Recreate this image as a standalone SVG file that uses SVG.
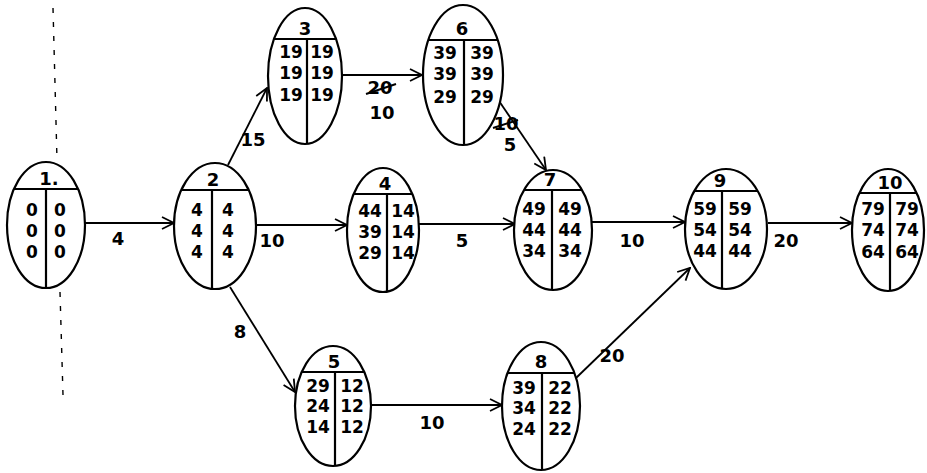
<svg xmlns="http://www.w3.org/2000/svg" width="927" height="473" viewBox="0 0 927 473">
<style>
.bg{fill:#fff}
.shape{fill:#fff;stroke:#000;stroke-width:2.2}
.ln{stroke:#000;stroke-width:2.2;fill:none}
.edge{stroke:#000;stroke-width:1.8;fill:none;marker-end:url(#arr)}
text{font-family:"DejaVu Sans","Liberation Sans",sans-serif;fill:#000;text-anchor:middle;font-weight:bold}
.v{font-size:17px}
.h{font-size:18px}
.lbl{font-size:18px}
.dash{stroke:#000;stroke-width:1.4;stroke-dasharray:5 9;fill:none}
.strike{stroke:#000;stroke-width:2;fill:none}
</style>
<defs>
<marker id="arr" viewBox="0 0 14 14" refX="13" refY="7" markerWidth="14" markerHeight="14" markerUnits="userSpaceOnUse" orient="auto">
<path d="M1,1 L13,7 L1,13" fill="none" stroke="#000" stroke-width="1.8"/>
</marker>
</defs>
<rect class="bg" x="0" y="0" width="927" height="473"/>
<path class="dash" d="M53,8 L57,160 M60,292 L63,395"/>
<g id="connectors">
<path class="edge" d="M85,223 L174,223"/>
<path class="edge" d="M228,165 L267,88"/>
<path class="edge" d="M256,225 L347,225"/>
<path class="edge" d="M230,287 L295,392"/>
<path class="edge" d="M341,75 L422,75"/>
<path class="edge" d="M497,98 L546,170"/>
<path class="edge" d="M418,224 L515,224"/>
<path class="edge" d="M592,222 L685,222"/>
<path class="edge" d="M768,223 L852,223"/>
<path class="edge" d="M370,405 L502,405"/>
<path class="edge" d="M576,378 L690,268"/>
<text class="lbl" x="118" y="245">4</text>
<text class="lbl" x="253" y="146">15</text>
<text class="lbl" x="272" y="247">10</text>
<text class="lbl" x="240" y="338">8</text>
<text class="lbl" x="380" y="94">20</text>
<path class="strike" d="M366,94 L396,84"/>
<text class="lbl" x="382" y="119">10</text>
<text class="lbl" x="506" y="130">10</text>
<path class="strike" d="M493,128 L518,120"/>
<text class="lbl" x="510" y="151">5</text>
<text class="lbl" x="462" y="247">5</text>
<text class="lbl" x="632" y="247">10</text>
<text class="lbl" x="786" y="247">20</text>
<text class="lbl" x="432" y="429">10</text>
<text class="lbl" x="612" y="362">20</text>
</g>
<g id="node1">
<ellipse class="shape" cx="46" cy="225" rx="39" ry="63"/>
<path class="ln" d="M14,189 L78,189 M46,189 L46,288"/>
<text class="h" x="49" y="185">1.</text>
<text class="v" x="32" y="216">0</text><text class="v" x="60" y="216">0</text>
<text class="v" x="32" y="237">0</text><text class="v" x="60" y="237">0</text>
<text class="v" x="32" y="258">0</text><text class="v" x="60" y="258">0</text>
</g>
<g id="node2">
<ellipse class="shape" cx="215" cy="226" rx="41" ry="63"/>
<path class="ln" d="M181,190 L249,190 M212,190 L212,289"/>
<text class="h" x="213" y="186">2</text>
<text class="v" x="197" y="216">4</text><text class="v" x="228" y="216">4</text>
<text class="v" x="197" y="237">4</text><text class="v" x="228" y="237">4</text>
<text class="v" x="197" y="258">4</text><text class="v" x="228" y="258">4</text>
</g>
<g id="node3">
<ellipse class="shape" cx="305" cy="76" rx="37" ry="68"/>
<path class="ln" d="M274,39 L336,39 M307,39 L307,144"/>
<text class="h" x="305" y="35">3</text>
<text class="v" x="291" y="58">19</text><text class="v" x="322" y="58">19</text>
<text class="v" x="291" y="79">19</text><text class="v" x="322" y="79">19</text>
<text class="v" x="291" y="101">19</text><text class="v" x="322" y="101">19</text>
</g>
<g id="node6">
<ellipse class="shape" cx="463" cy="75" rx="40" ry="70"/>
<path class="ln" d="M428,40 L498,40 M464,40 L464,145"/>
<text class="h" x="462" y="35">6</text>
<text class="v" x="445" y="59">39</text><text class="v" x="482" y="59">39</text>
<text class="v" x="445" y="80">39</text><text class="v" x="482" y="80">39</text>
<text class="v" x="445" y="103">29</text><text class="v" x="482" y="103">29</text>
</g>
<g id="node4">
<ellipse class="shape" cx="383" cy="230" rx="36" ry="62"/>
<path class="ln" d="M354,194 L412,194 M387,194 L387,292"/>
<text class="h" x="385" y="190">4</text>
<text class="v" x="370" y="217">44</text><text class="v" x="403" y="217">14</text>
<text class="v" x="370" y="238">39</text><text class="v" x="403" y="238">14</text>
<text class="v" x="370" y="259">29</text><text class="v" x="403" y="259">14</text>
</g>
<g id="node7">
<ellipse class="shape" cx="553" cy="230" rx="39" ry="60"/>
<path class="ln" d="M524,190 L582,190 M552,190 L552,290"/>
<text class="h" x="550" y="186">7</text>
<text class="v" x="534" y="215">49</text><text class="v" x="570" y="215">49</text>
<text class="v" x="534" y="236">44</text><text class="v" x="570" y="236">44</text>
<text class="v" x="534" y="257">34</text><text class="v" x="570" y="257">34</text>
</g>
<g id="node5">
<ellipse class="shape" cx="333" cy="406" rx="38" ry="60"/>
<path class="ln" d="M302,372 L364,372 M335,372 L335,466"/>
<text class="h" x="334" y="368">5</text>
<text class="v" x="318" y="392">29</text><text class="v" x="352" y="392">12</text>
<text class="v" x="318" y="412">24</text><text class="v" x="352" y="412">12</text>
<text class="v" x="318" y="433">14</text><text class="v" x="352" y="433">12</text>
</g>
<g id="node8">
<ellipse class="shape" cx="541" cy="406" rx="39" ry="64"/>
<path class="ln" d="M508,373 L574,373 M542,373 L542,470"/>
<text class="h" x="541" y="368">8</text>
<text class="v" x="524" y="394">39</text><text class="v" x="560" y="394">22</text>
<text class="v" x="524" y="414">34</text><text class="v" x="560" y="414">22</text>
<text class="v" x="524" y="435">24</text><text class="v" x="560" y="435">22</text>
</g>
<g id="node9">
<ellipse class="shape" cx="726" cy="229" rx="41" ry="60"/>
<path class="ln" d="M694,191 L758,191 M722,191 L722,289"/>
<text class="h" x="720" y="187">9</text>
<text class="v" x="705" y="215">59</text><text class="v" x="740" y="215">59</text>
<text class="v" x="705" y="236">54</text><text class="v" x="740" y="236">54</text>
<text class="v" x="705" y="257">44</text><text class="v" x="740" y="257">44</text>
</g>
<g id="node10">
<ellipse class="shape" cx="888" cy="230" rx="36" ry="61"/>
<path class="ln" d="M859,193 L917,193 M890,193 L890,291"/>
<text class="h" x="890" y="189">10</text>
<text class="v" x="873" y="215">79</text><text class="v" x="907" y="215">79</text>
<text class="v" x="873" y="236">74</text><text class="v" x="907" y="236">74</text>
<text class="v" x="873" y="258">64</text><text class="v" x="907" y="258">64</text>
</g>
</svg>
